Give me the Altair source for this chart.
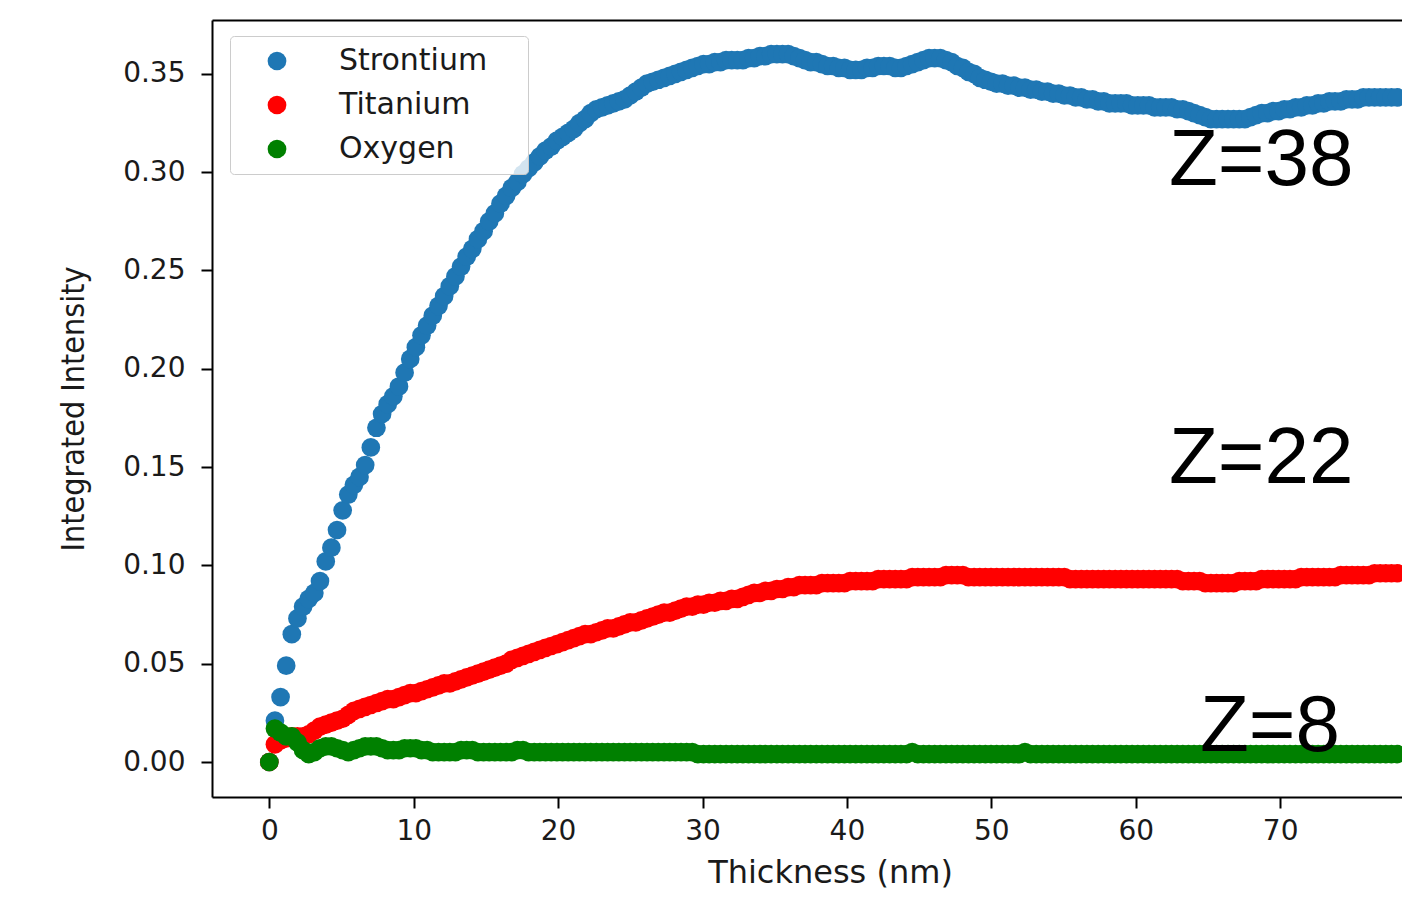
import altair as alt
import pandas as pd

# thickness in nm (one SrTiO3 unit cell ~0.39 nm per step)
THICKNESS_NM = [
    0.00, 0.39, 0.78, 1.17, 1.56, 1.95, 2.34, 2.73, 3.12, 3.51,
    3.91, 4.30, 4.69, 5.08, 5.47, 5.86, 6.25, 6.64, 7.03, 7.42,
    7.81, 8.20, 8.59, 8.98, 9.37, 9.76, 10.15, 10.54, 10.93, 11.32,
    11.72, 12.11, 12.50, 12.89, 13.28, 13.67, 14.06, 14.45, 14.84, 15.23,
    15.62, 16.01, 16.40, 16.79, 17.18, 17.57, 17.96, 18.35, 18.74, 19.13,
    19.52, 19.92, 20.31, 20.70, 21.09, 21.48, 21.87, 22.26, 22.65, 23.04,
    23.43, 23.82, 24.21, 24.60, 24.99, 25.38, 25.77, 26.16, 26.55, 26.94,
    27.34, 27.73, 28.12, 28.51, 28.90, 29.29, 29.68, 30.07, 30.46, 30.85,
    31.24, 31.63, 32.02, 32.41, 32.80, 33.19, 33.58, 33.97, 34.36, 34.75,
    35.15, 35.54, 35.93, 36.32, 36.71, 37.10, 37.49, 37.88, 38.27, 38.66,
    39.05, 39.44, 39.83, 40.22, 40.61, 41.00, 41.39, 41.78, 42.17, 42.56,
    42.96, 43.35, 43.74, 44.13, 44.52, 44.91, 45.30, 45.69, 46.08, 46.47,
    46.86, 47.25, 47.64, 48.03, 48.42, 48.81, 49.20, 49.59, 49.98, 50.37,
    50.77, 51.16, 51.55, 51.94, 52.33, 52.72, 53.11, 53.50, 53.89, 54.28,
    54.67, 55.06, 55.45, 55.84, 56.23, 56.62, 57.01, 57.40, 57.79, 58.18,
    58.58, 58.97, 59.36, 59.75, 60.14, 60.53, 60.92, 61.31, 61.70, 62.09,
    62.48, 62.87, 63.26, 63.65, 64.04, 64.43, 64.82, 65.21, 65.60, 65.99,
    66.39, 66.78, 67.17, 67.56, 67.95, 68.34, 68.73, 69.12, 69.51, 69.90,
    70.29, 70.68, 71.07, 71.46, 71.85, 72.24, 72.63, 73.02, 73.41, 73.80,
    74.20, 74.59, 74.98, 75.37, 75.76, 76.15, 76.54, 76.93, 77.32, 77.71,
    78.10,
]

STRONTIUM = [
    0.000, 0.021, 0.033, 0.049, 0.065, 0.073, 0.079, 0.083, 0.086, 0.092,
    0.102, 0.109, 0.118, 0.128, 0.136, 0.141, 0.145, 0.151, 0.160, 0.170,
    0.177, 0.182, 0.186, 0.191, 0.198, 0.205, 0.211, 0.217, 0.222, 0.227,
    0.232, 0.237, 0.242, 0.247, 0.252, 0.257, 0.261, 0.266, 0.270, 0.275,
    0.279, 0.284, 0.288, 0.292, 0.295, 0.299, 0.302, 0.305, 0.308, 0.311,
    0.313, 0.316, 0.318, 0.320, 0.322, 0.325, 0.327, 0.330, 0.332, 0.333,
    0.334, 0.335, 0.336, 0.337, 0.339, 0.341, 0.343, 0.345, 0.346, 0.347,
    0.348, 0.349, 0.350, 0.351, 0.352, 0.353, 0.354, 0.355, 0.355, 0.356,
    0.356, 0.357, 0.357, 0.357, 0.357, 0.358, 0.358, 0.359, 0.359, 0.360,
    0.360, 0.360, 0.360, 0.359, 0.358, 0.357, 0.356, 0.356, 0.355, 0.354,
    0.354, 0.353, 0.353, 0.352, 0.352, 0.352, 0.353, 0.353, 0.354, 0.354,
    0.354, 0.353, 0.353, 0.354, 0.355, 0.356, 0.357, 0.358, 0.358, 0.358,
    0.357, 0.356, 0.354, 0.353, 0.351, 0.350, 0.348, 0.347, 0.346, 0.345,
    0.345, 0.344, 0.344, 0.343, 0.343, 0.342, 0.342, 0.341, 0.341, 0.340,
    0.340, 0.339, 0.339, 0.338, 0.338, 0.337, 0.337, 0.336, 0.336, 0.335,
    0.335, 0.335, 0.335, 0.334, 0.334, 0.334, 0.334, 0.333, 0.333, 0.333,
    0.333, 0.332, 0.332, 0.331, 0.330, 0.329, 0.328, 0.327, 0.327, 0.327,
    0.327, 0.327, 0.327, 0.327, 0.328, 0.329, 0.330, 0.330, 0.331, 0.331,
    0.332, 0.332, 0.333, 0.333, 0.334, 0.334, 0.335, 0.335, 0.336, 0.336,
    0.336, 0.337, 0.337, 0.337, 0.338, 0.338, 0.338, 0.338, 0.338, 0.338,
    0.338,
]

TITANIUM = [
    0.000, 0.009, 0.011, 0.012, 0.013, 0.013, 0.013, 0.014, 0.016, 0.018,
    0.019, 0.020, 0.021, 0.022, 0.024, 0.026, 0.027, 0.028, 0.029, 0.030,
    0.031, 0.032, 0.032, 0.033, 0.034, 0.035, 0.035, 0.036, 0.037, 0.038,
    0.039, 0.040, 0.040, 0.041, 0.042, 0.043, 0.044, 0.045, 0.046, 0.047,
    0.048, 0.049, 0.050, 0.052, 0.053, 0.054, 0.055, 0.056, 0.057, 0.058,
    0.059, 0.060, 0.061, 0.062, 0.063, 0.064, 0.065, 0.065, 0.066, 0.067,
    0.068, 0.068, 0.069, 0.070, 0.071, 0.071, 0.072, 0.073, 0.074, 0.075,
    0.076, 0.076, 0.077, 0.078, 0.079, 0.079, 0.080, 0.080, 0.081, 0.081,
    0.082, 0.082, 0.083, 0.083, 0.084, 0.085, 0.086, 0.086, 0.087, 0.087,
    0.088, 0.088, 0.089, 0.089, 0.090, 0.090, 0.090, 0.090, 0.091, 0.091,
    0.091, 0.091, 0.091, 0.092, 0.092, 0.092, 0.092, 0.092, 0.093, 0.093,
    0.093, 0.093, 0.093, 0.093, 0.094, 0.094, 0.094, 0.094, 0.094, 0.094,
    0.095, 0.095, 0.095, 0.095, 0.094, 0.094, 0.094, 0.094, 0.094, 0.094,
    0.094, 0.094, 0.094, 0.094, 0.094, 0.094, 0.094, 0.094, 0.094, 0.094,
    0.094, 0.094, 0.093, 0.093, 0.093, 0.093, 0.093, 0.093, 0.093, 0.093,
    0.093, 0.093, 0.093, 0.093, 0.093, 0.093, 0.093, 0.093, 0.093, 0.093,
    0.093, 0.093, 0.092, 0.092, 0.092, 0.092, 0.091, 0.091, 0.091, 0.091,
    0.091, 0.091, 0.092, 0.092, 0.092, 0.092, 0.093, 0.093, 0.093, 0.093,
    0.093, 0.093, 0.093, 0.094, 0.094, 0.094, 0.094, 0.094, 0.094, 0.094,
    0.095, 0.095, 0.095, 0.095, 0.095, 0.095, 0.096, 0.096, 0.096, 0.096,
    0.096,
]

OXYGEN = [
    0.000, 0.017, 0.015, 0.013, 0.013, 0.010, 0.006, 0.004, 0.005, 0.007,
    0.008, 0.008, 0.007, 0.006, 0.005, 0.006, 0.007, 0.008, 0.008, 0.008,
    0.007, 0.006, 0.006, 0.006, 0.007, 0.007, 0.007, 0.006, 0.006, 0.005,
    0.005, 0.005, 0.005, 0.005, 0.006, 0.006, 0.006, 0.005, 0.005, 0.005,
    0.005, 0.005, 0.005, 0.005, 0.006, 0.006, 0.005, 0.005, 0.005, 0.005,
    0.005, 0.005, 0.005, 0.005, 0.005, 0.005, 0.005, 0.005, 0.005, 0.005,
    0.005, 0.005, 0.005, 0.005, 0.005, 0.005, 0.005, 0.005, 0.005, 0.005,
    0.005, 0.005, 0.005, 0.005, 0.005, 0.005, 0.004, 0.004, 0.004, 0.004,
    0.004, 0.004, 0.004, 0.004, 0.004, 0.004, 0.004, 0.004, 0.004, 0.004,
    0.004, 0.004, 0.004, 0.004, 0.004, 0.004, 0.004, 0.004, 0.004, 0.004,
    0.004, 0.004, 0.004, 0.004, 0.004, 0.004, 0.004, 0.004, 0.004, 0.004,
    0.004, 0.004, 0.004, 0.004, 0.005, 0.004, 0.004, 0.004, 0.004, 0.004,
    0.004, 0.004, 0.004, 0.004, 0.004, 0.004, 0.004, 0.004, 0.004, 0.004,
    0.004, 0.004, 0.004, 0.004, 0.005, 0.004, 0.004, 0.004, 0.004, 0.004,
    0.004, 0.004, 0.004, 0.004, 0.004, 0.004, 0.004, 0.004, 0.004, 0.004,
    0.004, 0.004, 0.004, 0.004, 0.004, 0.004, 0.004, 0.004, 0.004, 0.004,
    0.004, 0.004, 0.004, 0.004, 0.004, 0.004, 0.004, 0.004, 0.004, 0.004,
    0.004, 0.004, 0.004, 0.004, 0.004, 0.004, 0.004, 0.004, 0.004, 0.004,
    0.004, 0.004, 0.004, 0.004, 0.004, 0.004, 0.004, 0.004, 0.004, 0.004,
    0.004, 0.004, 0.004, 0.004, 0.004, 0.004, 0.004, 0.004, 0.004, 0.004,
    0.004,
]

ELEMENTS = ["Strontium", "Titanium", "Oxygen"]
COLORS = ["#1f77b4", "#ff0000", "#008000"]

X_TICKS = [0, 10, 20, 30, 40, 50, 60, 70]
Y_TICKS = [0.00, 0.05, 0.10, 0.15, 0.20, 0.25, 0.30, 0.35]

Z_LABELS = ["Z=38", "Z=22", "Z=8"]
Z_X = [62.30, 62.30, 64.45]
Z_Y = [0.2935, 0.1420, 0.0056]

rows = []
for name, series in zip(ELEMENTS, [STRONTIUM, TITANIUM, OXYGEN]):
    for t, v in zip(THICKNESS_NM, series):
        rows.append({"thickness": t, "intensity": v, "element": name})
df = pd.DataFrame(rows)
zdf = pd.DataFrame({"thickness": Z_X, "intensity": Z_Y, "label": Z_LABELS})

x_scale = alt.Scale(domain=[-3.968, 78.44], nice=False, zero=False)
y_scale = alt.Scale(domain=[-0.0178, 0.3774], nice=False, zero=False)

y_axis = alt.Axis(
    values=Y_TICKS,
    format=".2f",
    title="Integrated Intensity",
    labelPadding=16,
    titleX=-129,
    titleY=388.5,
    titleAngle=-90,
    titleBaseline="alphabetic",
    titleAlign="center",
    titleFontSize=32,
    titleFont="DejaVu Sans Condensed, DejaVu Sans",
)

points = alt.Chart(df).mark_circle(size=350, opacity=1, strokeWidth=0).encode(
    x=alt.X(
        "thickness:Q",
        scale=x_scale,
        axis=alt.Axis(
            orient="bottom",
            values=X_TICKS,
            format="d",
            title="Thickness (nm)",
            labelPadding=9,
            titleX=618,
            titleY=85,
            titleBaseline="alphabetic",
            titleAlign="center",
            titleFontSize=32,
            titleFont="DejaVu Sans",
        ),
    ),
    y=alt.Y("intensity:Q", scale=y_scale, axis=y_axis),
    color=alt.Color(
        "element:N",
        sort=ELEMENTS,
        scale=alt.Scale(domain=ELEMENTS, range=COLORS),
        legend=alt.Legend(
            orient="none",
            legendX=18,
            legendY=16,
            title=".",
            titleOrient="right",
            titlePadding=28,
            titleFontSize=10,
            titleColor="rgba(0,0,0,0)",
            padding=10,
            fillColor="rgba(255,255,255,0.8)",
            strokeColor="#cccccc",
            cornerRadius=4,
            symbolType="circle",
            symbolSize=350,
            symbolStrokeWidth=0,
            symbolOpacity=1,
            symbolOffset=22,
            labelOffset=47,
            labelFont="DejaVu Sans",
            labelFontSize=30,
            labelColor="#1a1a1a",
            labelLimit=600,
            rowPadding=14,
        ),
    ),
)

zlabels = alt.Chart(zdf).mark_text(
    font="Liberation Sans",
    fontSize=80,
    align="left",
    baseline="alphabetic",
    color="#000000",
).encode(
    x=alt.X(
        "thickness:Q",
        scale=x_scale,
        axis=alt.Axis(orient="top", labels=False, ticks=False, title=None, grid=False),
    ),
    y=alt.Y("intensity:Q", scale=y_scale, axis=y_axis),
    text="label:N",
)

chart = (
    alt.layer(points, zlabels)
    .resolve_scale(x="independent")
    .resolve_axis(x="independent")
    .properties(
        width=1190,
        height=777,
        padding={"left": 204, "top": 12, "right": 0, "bottom": 92},
        autosize=alt.AutoSizeParams(type="none"),
    )
    .configure_view(stroke=None)
    .configure_axis(
        grid=False,
        domainColor="#000000",
        domainWidth=2,
        tickColor="#000000",
        tickWidth=2,
        tickSize=11,
        labelFont="DejaVu Sans",
        labelFontSize=28,
        labelColor="#1a1a1a",
        titleColor="#1a1a1a",
        titleFontWeight="normal",
    )
)

chart.save("out.html", embed_options={"renderer": "svg", "actions": False})
